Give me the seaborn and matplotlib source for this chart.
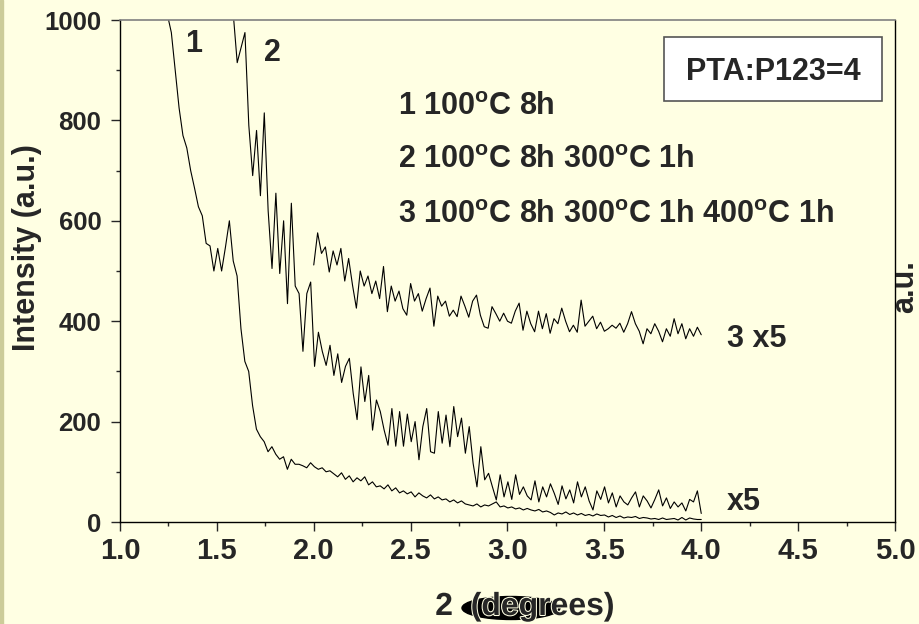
import numpy as np
import matplotlib
matplotlib.use("Agg")
import matplotlib.pyplot as plt
import matplotlib.patheffects as pe
from matplotlib.patches import Rectangle, Ellipse
import seaborn as sns

# curve 1: 100C 8h
y1 = [1010, 975, 900, 825, 770, 745, 700, 665, 628, 610,
      555, 550, 500, 545, 500, 548, 600, 520, 490, 385,
      320, 300, 232, 185, 170, 160, 140, 150, 135, 125,
      130, 105, 125, 115, 115, 112, 108, 118, 110, 105,
      108, 100, 102, 96, 90, 98, 85, 92, 80, 88,
      82, 90, 74, 80, 70, 72, 66, 74, 62, 68,
      58, 62, 56, 60, 50, 58, 52, 48, 54, 46,
      50, 44, 46, 40, 44, 38, 42, 36, 34, 32,
      36, 30, 34, 32, 36, 40, 30, 32, 28, 30,
      26, 28, 24, 27, 24, 22, 25, 20, 22, 19,
      14, 18, 16, 20, 15, 18, 14, 17, 13, 15,
      12, 16, 13, 14, 10, 13, 9, 12, 8, 10,
      9, 11, 7, 9, 8, 6, 7, 5, 8, 5,
      6, 7, 4, 9, 4, 8, 6, 5, 5]

# curve 2: 100C 8h + 300C 1h
y2 = [1010, 915, 945, 975, 790, 690, 780, 650, 815, 620,
      505, 655, 495, 600, 435, 635, 470, 455, 340, 455,
      478, 310, 378, 340, 312, 352, 292, 335, 278, 310,
      326, 256, 204, 309, 240, 292, 183, 243, 220, 183,
      153, 226, 151, 220, 151, 215, 160, 200, 124, 190,
      226, 140, 137, 220, 157, 213, 150, 230, 170, 207,
      137, 190, 117, 70, 150, 84, 97, 70, 44, 94,
      50, 80, 45, 94, 55, 70, 52, 44, 82, 40,
      70, 50, 76, 57, 35, 72, 46, 64, 38, 80,
      50, 70, 42, 24, 62, 45, 70, 38, 58, 30,
      52, 40, 34, 48, 60, 30, 52, 42, 28, 45,
      64, 32, 48, 27, 40, 30, 38, 22, 45, 40,
      62, 17]

# curve 3: 100C 8h + 300C 1h + 400C 1h (x5)
y3 = [512, 576, 535, 548, 498, 540, 512, 545, 480, 525,
      472, 426, 500, 470, 490, 455, 480, 445, 509, 419,
      470, 440, 460, 425, 412, 475, 440, 455, 420, 445,
      466, 390, 450, 430, 440, 410, 422, 409, 450, 430,
      408, 440, 452, 412, 389, 386, 429, 415, 400, 416,
      400, 396, 420, 436, 382, 420, 395, 379, 420, 385,
      415, 376, 405, 395, 426, 400, 379, 392, 378, 442,
      390, 400, 410, 385, 398, 380, 385, 392, 386, 396,
      378, 395, 419, 395, 380, 355, 385, 375, 395, 380,
      359, 385, 370, 405, 375, 395, 365, 385, 370, 388,
      373]

x1 = np.linspace(1.245, 4.0, len(y1))
x2 = np.linspace(1.585, 4.0, len(y2))
x3 = np.linspace(2.0, 4.0, len(y3))

conditions = ["1 100$^{\\mathbf{o}}$C 8h",
              "2 100$^{\\mathbf{o}}$C 8h 300$^{\\mathbf{o}}$C 1h",
              "3 100$^{\\mathbf{o}}$C 8h 300$^{\\mathbf{o}}$C 1h 400$^{\\mathbf{o}}$C 1h"]

bg = "#FFFFE3"
sns.set_style("ticks")
plt.rcParams["font.family"] = ["Liberation Sans", "DejaVu Sans"]
plt.rcParams["font.weight"] = "bold"
plt.rcParams["mathtext.fontset"] = "custom"
plt.rcParams["mathtext.rm"] = "Liberation Sans:bold"
plt.rcParams["mathtext.bf"] = "Liberation Sans:bold"

fig = plt.figure(figsize=(9.19, 6.24), dpi=100, facecolor=bg)
ax = fig.add_axes([120 / 919, 102 / 624, 775 / 919, 502 / 624])
ax.set_facecolor(bg)
fig.patches.append(Rectangle((0, 0), 3 / 919, 1, transform=fig.transFigure,
                             color="#CCCC99", zorder=0))

for xs, ys in [(x1, y1), (x2, y2), (x3, y3)]:
    sns.lineplot(x=xs, y=ys, ax=ax, color="black", linewidth=0.8,
                 estimator=None, sort=False)

ax.set_xlim(1.0, 5.0)
ax.set_ylim(0, 1000)
ax.set_xticks(np.arange(1.0, 5.01, 0.5))
ax.set_xticks(np.arange(1.25, 5.0, 0.5), minor=True)
ax.set_yticks(np.arange(0, 1001, 200))
ax.set_yticks(np.arange(100, 1000, 200), minor=True)
ax.set_xticklabels([f"{v:.1f}" for v in np.arange(1.0, 5.01, 0.5)])
ax.tick_params(axis="x", which="major", labelsize=21, length=6.5, width=1, pad=4.5)
ax.tick_params(axis="y", which="major", labelsize=18.5, length=6.5, width=1, pad=7)
ax.tick_params(which="minor", length=3, width=1)
for lab in ax.get_xticklabels() + ax.get_yticklabels():
    lab.set_fontweight("bold")
for side in ["left", "bottom", "right"]:
    ax.spines[side].set_color("black")
    ax.spines[side].set_linewidth(1.0)
ax.spines["top"].set_color("#808080")
ax.spines["top"].set_linewidth(1.2)
ax.set_xlabel("")
ax.set_ylabel("")

# curve labels
ax.text(1.335, 936, "1", fontsize=22, fontweight="bold", va="baseline")
ax.text(1.743, 919, "2", fontsize=22, fontweight="bold", va="baseline")
ax.text(4.133, 349, "3 x5", fontsize=22, fontweight="bold", va="baseline")
ax.text(4.133, 24, "x5", fontsize=22, fontweight="bold", va="baseline")

for yb, txt in zip([811, 705, 596], conditions):
    ax.text(2.435, yb, txt, fontsize=22, fontweight="bold", va="baseline")

# sample box
ax.add_patch(Rectangle((0.702, 0.8386), 0.281, 0.1274, transform=ax.transAxes,
                       facecolor="white", edgecolor="#555555", linewidth=1.2, zorder=5))
ax.text(0.8426, 0.8805, "PTA:P123=4", transform=ax.transAxes, fontsize=22,
        fontweight="bold", ha="center", va="baseline", zorder=6)

# axis titles
fig.text(35 / 919, (624 - 248) / 624, "Intensity (a.u.)", rotation=90,
         rotation_mode="anchor", ha="center", va="baseline", fontsize=22,
         fontweight="bold")
fig.text(913 / 919, (624 - 287) / 624, "a.u.", rotation=90,
         rotation_mode="anchor", ha="center", va="baseline", fontsize=22,
         fontweight="bold")
fig.patches.append(Ellipse((511 / 919, (624 - 608) / 624), 98 / 919, 23 / 624,
                           transform=fig.transFigure, color="black", zorder=1))
fig.text(525 / 919, (624 - 615) / 624, "2  (degrees)", ha="center", va="baseline",
         fontsize=23, fontweight="bold", zorder=2,
         path_effects=[pe.withStroke(linewidth=1.5, foreground=bg)])

fig.savefig("out.png", dpi=100, facecolor=bg)
